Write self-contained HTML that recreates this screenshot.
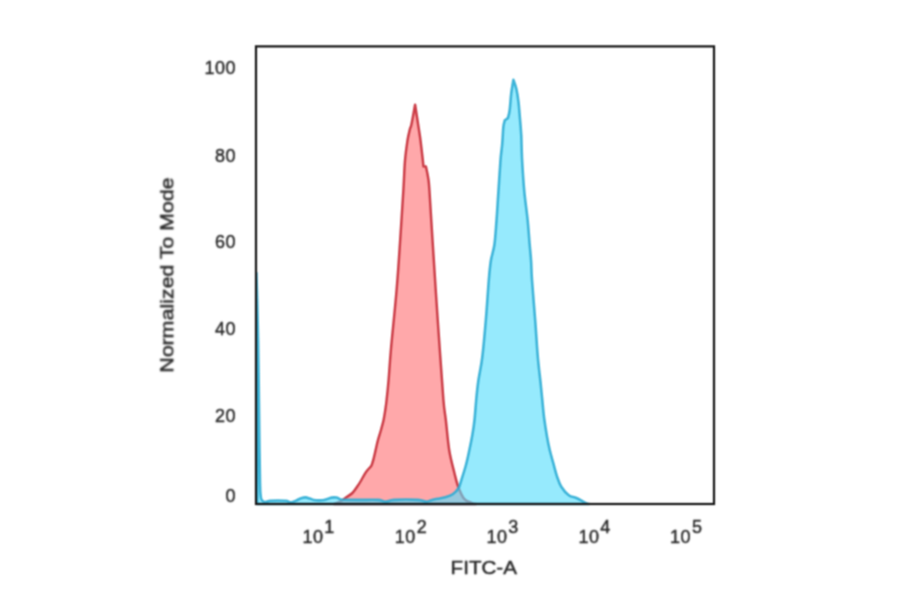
<!DOCTYPE html>
<html>
<head>
<meta charset="utf-8">
<title>FITC-A histogram</title>
<style>
html,body{margin:0;padding:0;background:#fff;}
body{width:900px;height:594px;overflow:hidden;}
svg{display:block;}
text{font-family:"Liberation Sans",sans-serif;fill:#262626;stroke:#262626;stroke-width:0.42px;}
.tk{font-size:18px;letter-spacing:0.5px;}
.sup{font-size:18px;}
.ax{font-size:18px;}
</style>
</head>
<body>
<svg width="900" height="594" viewBox="0 0 900 594">
<defs><filter id="soft" x="0" y="0" width="900" height="594" filterUnits="userSpaceOnUse" color-interpolation-filters="sRGB"><feConvolveMatrix order="3" kernelMatrix="1 2 1 2 4 2 1 2 1" divisor="16" edgeMode="duplicate"/></filter><filter id="softer" x="0" y="0" width="900" height="594" filterUnits="userSpaceOnUse" color-interpolation-filters="sRGB"><feConvolveMatrix order="3" kernelMatrix="0 1 0 1 4 1 0 1 0" divisor="8" edgeMode="duplicate"/></filter></defs>
<rect x="0" y="0" width="900" height="594" fill="#ffffff"/>
<g filter="url(#soft)">
<g id="plot">
<!-- red -->
<path id="red" fill="#ffa8aa" stroke="#cc3f49" stroke-width="2.5" stroke-linejoin="round"
 d="M334.0,504.0 C334.7,503.8 336.7,503.1 338.0,502.5 C339.3,501.9 340.6,501.4 342.0,500.5 C343.4,499.6 344.6,498.6 346.3,497.3 C348.0,496.1 350.5,494.9 352.4,493.0 C354.3,491.1 356.2,488.1 357.6,486.0 C359.1,483.9 359.9,482.6 361.1,480.5 C362.3,478.4 363.8,475.5 365.0,473.6 C366.2,471.7 367.1,470.6 368.2,469.3 C369.2,468.0 370.5,467.2 371.3,465.8 C372.1,464.4 372.4,462.9 373.0,461.0 C373.6,459.1 373.9,457.8 374.7,454.3 C375.5,450.8 376.9,444.1 378.0,440.0 C379.1,435.9 380.1,433.3 381.0,430.0 C381.9,426.7 382.9,423.3 383.6,420.0 C384.3,416.7 384.8,413.3 385.3,410.0 C385.8,406.7 386.1,405.0 386.6,400.0 C387.2,395.0 387.9,388.3 388.6,380.0 C389.3,371.7 389.6,365.0 390.9,350.0 C392.2,335.0 395.1,308.3 396.6,290.0 C398.2,271.7 399.1,256.7 400.2,240.0 C401.3,223.3 402.6,203.2 403.4,190.0 C404.2,176.8 404.3,168.9 405.0,160.7 C405.7,152.4 406.7,145.8 407.5,140.5 C408.3,135.2 409.6,130.7 410.0,128.7 C410.3,127.9 410.8,127.7 411.6,123.7 C412.5,119.7 414.5,108.0 415.1,104.8 C415.6,108.0 417.1,117.8 418.0,123.7 C418.9,129.7 419.8,134.9 420.5,140.5 C421.2,146.1 422.0,153.0 422.5,157.3 C423.0,161.7 423.3,165.1 423.5,166.6 C423.9,166.6 425.5,166.6 425.9,166.6 C426.3,168.4 427.5,173.6 428.1,177.5 C428.7,181.4 428.7,179.6 429.4,190.0 C430.1,200.4 431.4,223.3 432.5,240.0 C433.6,256.7 434.5,271.7 435.7,290.0 C436.9,308.3 438.5,331.7 439.8,350.0 C441.1,368.3 442.4,388.3 443.4,400.0 C444.4,411.7 444.8,411.6 445.8,420.0 C446.8,428.4 447.8,441.5 449.2,450.3 C450.6,459.1 452.9,466.9 454.4,473.0 C455.9,479.1 456.6,482.4 458.2,486.7 C459.8,491.0 462.0,496.1 464.1,498.8 C466.2,501.5 468.9,501.7 470.9,502.6 C472.9,503.5 475.1,503.8 476.0,504.0 Z"/>
<!-- blue -->
<path id="blue" fill="#56ddfc" fill-opacity="0.62" stroke="#2cacd4" stroke-opacity="0.88" stroke-width="2.6" stroke-linejoin="round"
 d="M257.2,504.0 C257.2,503.0 257.2,499.0 257.2,498.0 C257.1,465.0 256.9,333.0 256.8,300.0 C256.7,295.5 256.5,277.5 256.4,273.0 C256.5,277.5 256.9,288.8 257.2,300.0 C257.5,311.2 257.8,323.3 258.1,340.0 C258.4,356.7 258.7,381.7 258.9,400.0 C259.1,418.3 259.3,436.3 259.5,450.0 C259.7,463.7 259.8,474.7 260.0,482.0 C260.2,489.3 260.2,491.1 260.5,494.0 C260.8,496.9 260.8,498.2 261.5,499.5 C262.2,500.8 263.4,501.8 264.8,502.0 C266.2,502.2 267.8,501.1 270.0,500.8 C272.2,500.6 275.3,500.5 278.0,500.5 C280.7,500.5 283.8,500.5 286.0,500.8 C288.2,501.1 289.3,502.3 291.0,502.3 C292.7,502.3 294.3,501.3 296.0,500.6 C297.7,499.9 299.4,498.7 301.0,498.2 C302.6,497.7 304.1,497.3 305.6,497.4 C307.1,497.5 308.6,498.2 310.0,498.6 C311.4,499.0 312.0,499.7 314.0,500.0 C316.0,500.3 319.7,500.4 322.0,500.2 C324.3,500.0 326.4,499.2 328.0,498.8 C329.6,498.4 330.1,497.8 331.5,497.6 C332.9,497.4 335.1,497.3 336.5,497.6 C337.9,497.9 338.8,498.8 340.0,499.2 C341.2,499.6 340.7,499.7 344.0,499.8 C347.3,499.9 354.3,499.9 360.0,499.9 C365.7,499.9 373.7,499.6 378.0,499.9 C382.3,500.2 383.3,501.6 386.0,501.6 C388.7,501.6 388.7,500.2 394.0,499.9 C399.3,499.6 412.7,499.6 418.0,499.9 C423.3,500.2 423.7,501.6 426.0,501.6 C428.3,501.6 430.1,500.4 432.0,499.9 C433.9,499.4 435.4,499.2 437.6,498.8 C439.8,498.4 442.7,498.1 445.2,497.3 C447.7,496.5 450.5,495.7 452.7,494.2 C454.9,492.7 457.1,490.5 458.5,488.2 C459.9,485.9 460.0,484.4 461.2,480.6 C462.4,476.8 464.4,470.6 465.8,465.5 C467.2,460.4 468.2,455.4 469.3,450.3 C470.4,445.2 471.4,440.2 472.3,435.2 C473.2,430.1 473.9,425.9 474.5,420.0 C475.1,414.1 475.6,406.5 476.2,400.0 C476.8,393.5 477.3,388.2 478.3,381.0 C479.3,373.8 481.1,367.1 482.3,357.0 C483.6,346.9 484.7,333.2 485.8,320.4 C486.9,307.6 488.0,289.9 488.8,280.0 C489.6,270.1 489.9,266.9 490.8,261.0 C491.7,255.1 493.4,251.5 494.4,244.8 C495.3,238.1 495.8,229.7 496.5,220.6 C497.2,211.5 497.8,200.4 498.5,190.3 C499.2,180.2 499.9,167.7 500.5,160.0 C501.1,152.3 501.7,149.6 502.2,144.2 C502.7,138.8 502.9,131.3 503.3,127.3 C503.7,123.3 504.6,121.5 504.8,120.3 C505.3,119.9 507.4,118.5 507.9,118.1 C508.2,116.8 509.1,114.6 509.6,110.5 C510.2,106.4 510.6,98.8 511.2,93.7 C511.8,88.6 513.0,82.2 513.4,79.9 C513.9,81.4 515.4,84.9 516.3,88.6 C517.1,92.3 517.9,97.0 518.5,102.1 C519.1,107.1 519.5,113.3 520.0,118.9 C520.5,124.5 520.9,129.0 521.3,135.8 C521.6,142.7 521.6,150.9 522.1,160.0 C522.6,169.1 523.3,180.2 524.2,190.3 C525.1,200.4 526.8,211.5 527.7,220.6 C528.6,229.7 529.1,238.1 529.7,244.8 C530.3,251.5 530.7,255.1 531.1,261.0 C531.5,266.9 531.3,270.1 532.0,280.0 C532.7,289.9 534.2,307.6 535.2,320.4 C536.2,333.2 536.9,346.7 537.8,356.8 C538.7,366.9 539.6,373.8 540.4,381.0 C541.1,388.2 541.7,393.8 542.3,400.0 C542.9,406.2 543.4,412.5 544.2,418.5 C545.0,424.5 546.0,430.7 546.9,436.0 C547.8,441.3 548.7,445.7 549.8,450.3 C550.9,454.9 552.3,459.4 553.5,463.9 C554.7,468.3 555.9,473.2 557.2,477.0 C558.5,480.8 559.4,483.7 561.3,486.7 C563.2,489.7 566.3,493.3 568.8,495.2 C571.3,497.1 573.8,496.8 576.5,498.0 C579.2,499.2 582.9,501.6 585.0,502.6 C587.1,503.6 588.3,503.8 589.0,504.0 Z"/>
</g>
<!-- frame -->
<rect x="256" y="46.4" width="458" height="457.6" fill="none" stroke="#181818" stroke-width="2.25"/>
<g filter="url(#softer)">
<!-- y ticks -->
<g class="tk" text-anchor="end">
<text x="236" y="74">100</text>
<text x="236" y="161.6">80</text>
<text x="236" y="247.8">60</text>
<text x="236" y="334.7">40</text>
<text x="236" y="421.6">20</text>
<text x="236" y="502">0</text>
</g>
<!-- x ticks -->
<g class="tk">
<text x="302.4" y="543">10</text><text class="sup" x="324.3" y="532.6">1</text>
<text x="394.8" y="543">10</text><text class="sup" x="416.7" y="532.6">2</text>
<text x="486.4" y="543">10</text><text class="sup" x="508.3" y="532.6">3</text>
<text x="578.4" y="543">10</text><text class="sup" x="600.3" y="532.6">4</text>
<text x="670.1" y="543">10</text><text class="sup" x="692.0" y="532.6">5</text>
</g>
<text class="ax" x="450.6" y="573.7" textLength="66.3" lengthAdjust="spacingAndGlyphs">FITC-A</text>
<text class="ax" transform="translate(173.3,372.6) rotate(-90)" textLength="195.2" lengthAdjust="spacingAndGlyphs">Normalized To Mode</text>
</g>
</g>
</svg>
</body>
</html>
